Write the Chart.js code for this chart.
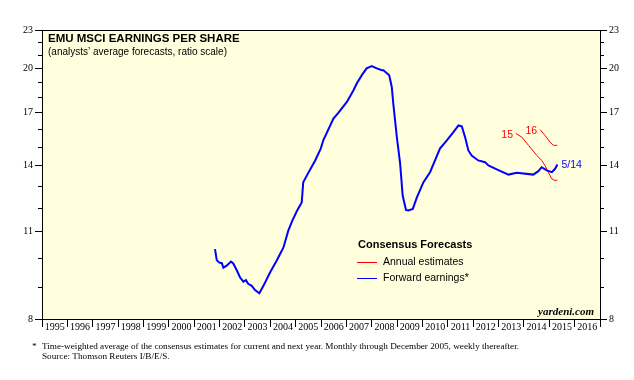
<!DOCTYPE html>
<html><head><meta charset="utf-8">
<script src="https://cdn.jsdelivr.net/npm/chart.js@4"></script>
<style>html,body{margin:0;padding:0;background:#fff;}</style>
</head><body>
<canvas id="c" width="634" height="380"></canvas>
<script>
// ---- data (decimal years, EPS values) ----
const fwdDates = [2001.82,2001.89,2001.98,2002.09,2002.15,2002.28,2002.45,2002.54,2002.68,2002.81,2002.94,2003.04,2003.13,2003.27,2003.40,2003.57,2003.73,2003.99,2004.25,2004.52,2004.71,2004.87,2005.06,2005.24,2005.30,2005.44,2005.77,2005.99,2006.09,2006.49,2006.69,2007.02,2007.28,2007.41,2007.61,2007.80,2008.00,2008.20,2008.40,2008.46,2008.69,2008.79,2008.85,2008.99,2009.12,2009.22,2009.35,2009.44,2009.62,2009.78,2010.04,2010.30,2010.69,2010.96,2011.22,2011.42,2011.55,2011.68,2011.81,2011.94,2012.20,2012.47,2012.60,2012.93,2013.39,2013.72,2014.37,2014.57,2014.70,2014.90,2015.10,2015.23,2015.32];
const fwdValues = [10.33,9.92,9.84,9.81,9.65,9.72,9.87,9.80,9.56,9.31,9.17,9.22,9.10,9.03,8.89,8.79,9.03,9.48,9.90,10.39,11.05,11.46,11.89,12.25,13.19,13.51,14.28,14.91,15.37,16.64,17.00,17.68,18.46,18.92,19.50,19.99,20.16,19.99,19.86,19.86,19.50,18.68,17.58,15.55,14.11,12.56,11.92,11.89,11.96,12.48,13.19,13.68,14.91,15.37,15.84,16.23,16.18,15.55,14.81,14.54,14.28,14.19,14.02,13.82,13.56,13.65,13.56,13.73,13.93,13.77,13.68,13.85,14.07];
const est15Dates = [2013.69,2013.92,2014.18,2014.51,2014.70,2014.83,2014.96,2015.10,2015.23,2015.32];
const est15Values = [15.75,15.55,15.09,14.54,14.28,14.02,13.68,13.35,13.27,13.29];
const est16Dates = [2014.64,2014.83,2015.03,2015.16,2015.32];
const est16Values = [15.98,15.65,15.27,15.09,15.09];
const yearLabels = [1995,1996,1997,1998,1999,2000,2001,2002,2003,2004,2005,2006,2007,2008,2009,2010,2011,2012,2013,2014,2015,2016];
const yTickValues = [8,9,10,11,12,13,14,15,16,17,18,19,20,21,22,23];
const yLabelValues = [8,11,14,17,20,23];

const toXY = (xs, ys) => xs.map((x, i) => ({x: x, y: ys[i]}));
const SANS = '"Liberation Sans", Arial, sans-serif';
const SERIF = '"Liberation Serif", "Times New Roman", serif';
Chart.defaults.font.family = SERIF;
Chart.defaults.color = '#000';

const yAxis = (pos, w) => ({
  type: 'logarithmic', position: pos, min: 8, max: 23,
  afterBuildTicks: s => { s.ticks = yTickValues.map(v => ({value: v})); },
  afterFit: s => { s.width = w; },
  ticks: { callback: v => yLabelValues.includes(v) ? String(v) : '', font: {size: 10, family: SERIF}, color: '#000', padding: 2, autoSkip: false },
  grid: { drawOnChartArea: false, tickLength: 7, tickColor: c => yLabelValues.includes(c.tick.value) ? '#000' : 'rgba(0,0,0,0)', tickWidth: 1 },
  border: { display: true, color: '#000', width: 1 }
});

const deco = {
  id: 'deco',
  beforeDraw(chart) {
    const {ctx, chartArea: a} = chart;
    ctx.save();
    ctx.fillStyle = '#fff';
    ctx.fillRect(0, 0, chart.width, chart.height);
    ctx.fillStyle = '#FFFFDE';
    ctx.fillRect(a.left, a.top, a.right - a.left, a.bottom - a.top);
    ctx.restore();
  },
  afterDraw(chart) {
    const {ctx, chartArea: a, scales} = chart;
    ctx.save();
    // frame
    ctx.strokeStyle = '#000'; ctx.lineWidth = 1;
    ctx.strokeRect(Math.round(a.left) + 0.5, Math.round(a.top) + 0.5, Math.round(a.right - a.left), Math.round(a.bottom - a.top));
    // minor ticks on both y axes
    ctx.beginPath();
    yTickValues.forEach(v => {
      if (yLabelValues.includes(v)) return;
      const py = Math.round(scales.y.getPixelForValue(v)) + 0.5;
      ctx.moveTo(a.left - 4, py); ctx.lineTo(a.left, py);
      ctx.moveTo(a.right, py); ctx.lineTo(a.right + 4, py);
    });
    ctx.stroke();
    // titles
    ctx.fillStyle = '#000';
    ctx.textBaseline = 'middle'; ctx.textAlign = 'left';
    ctx.font = 'bold 11.5px ' + SANS;
    ctx.fillText('EMU MSCI EARNINGS PER SHARE', 48, 39);
    ctx.font = '10px ' + SANS;
    ctx.fillText('(analysts\u2019 average forecasts, ratio scale)', 48, 52);
    // legend
    ctx.font = 'bold 11px ' + SANS;
    ctx.fillText('Consensus Forecasts', 358, 245);
    ctx.font = '10.5px ' + SANS;
    ctx.fillText('Annual estimates', 383, 262);
    ctx.fillText('Forward earnings*', 383, 278);
    ctx.lineWidth = 1;
    ctx.strokeStyle = '#FF0000';
    ctx.beginPath(); ctx.moveTo(357, 262.5); ctx.lineTo(377, 262.5); ctx.stroke();
    ctx.strokeStyle = '#0000FF';
    ctx.beginPath(); ctx.moveTo(357, 278.5); ctx.lineTo(377, 278.5); ctx.stroke();
    // series labels
    ctx.font = '10.5px ' + SANS;
    ctx.fillStyle = '#FF0000'; ctx.textAlign = 'right';
    ctx.fillText('15', scales.x.getPixelForValue(est15Dates[0]) - 3, scales.y.getPixelForValue(est15Values[0]) + 1);
    ctx.fillText('16', scales.x.getPixelForValue(est16Dates[0]) - 3, scales.y.getPixelForValue(est16Values[0]) + 1);
    ctx.fillStyle = '#0000FF'; ctx.textAlign = 'left';
    const n = fwdDates.length - 1;
    ctx.fillText('5/14', scales.x.getPixelForValue(fwdDates[n]) + 4, scales.y.getPixelForValue(fwdValues[n]) + 1);
    // source
    ctx.fillStyle = '#000'; ctx.textAlign = 'right';
    ctx.font = 'italic bold 11px ' + SERIF;
    ctx.fillText('yardeni.com', 594, 312);
    ctx.textAlign = 'left';
    ctx.font = '9.2px ' + SERIF;
    ctx.fillText('*', 32, 347);
    ctx.fillText('Time-weighted average of the consensus estimates for current and next year. Monthly through December 2005, weekly thereafter.', 42, 347);
    ctx.fillText('Source: Thomson Reuters I/B/E/S.', 42, 357);
    ctx.restore();
  }
};

new Chart(document.getElementById('c'), {
  type: 'line',
  data: {
    datasets: [
      { label: 'Forward earnings*', data: toXY(fwdDates, fwdValues), borderColor: '#0000FF', borderWidth: 2, pointRadius: 0, tension: 0 },
      { label: '15', data: toXY(est15Dates, est15Values), borderColor: '#FF0000', borderWidth: 1, pointRadius: 0, tension: 0 },
      { label: '16', data: toXY(est16Dates, est16Values), borderColor: '#FF0000', borderWidth: 1, pointRadius: 0, tension: 0 }
    ]
  },
  options: {
    responsive: false, animation: false, devicePixelRatio: 1,
    layout: { padding: { top: 30, left: 0, right: 0, bottom: 0 } },
    plugins: { legend: { display: false }, tooltip: { enabled: false }, title: { display: false } },
    scales: {
      x: {
        type: 'linear', position: 'bottom', min: 1995, max: 2017,
        afterBuildTicks: s => { s.ticks = yearLabels.map(y => ({value: y + 0.5})); },
        afterFit: s => { s.height = 61; },
        ticks: { callback: v => String(Math.floor(v)), font: {size: 10, family: SERIF}, color: '#000', padding: -6, autoSkip: false, maxRotation: 0 },
        grid: { offset: true, drawOnChartArea: false, tickLength: 8, color: '#000' },
        border: { display: true, color: '#000' }
      },
      y: yAxis('left', 42),
      y2: yAxis('right', 34)
    }
  },
  plugins: [deco]
});
</script>
</body></html>
